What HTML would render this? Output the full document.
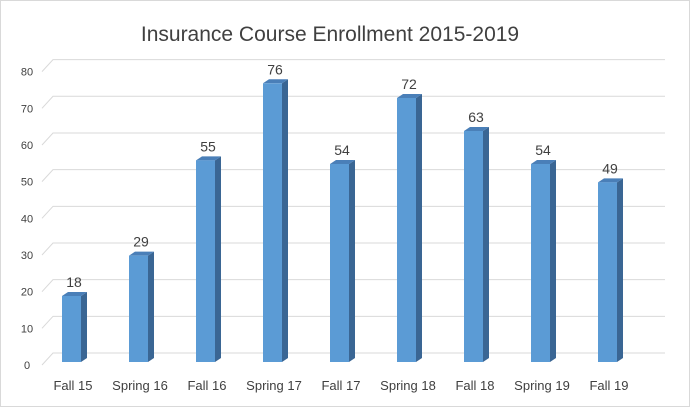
<!DOCTYPE html>
<html><head><style>body{margin:0;background:#fff}</style></head><body>
<svg width="690" height="407" xmlns="http://www.w3.org/2000/svg" font-family="Liberation Sans, sans-serif">
<rect x="0.5" y="0.5" width="689" height="406" fill="#fff" stroke="#d9d9d9"/>
<text x="330" y="41" text-anchor="middle" font-size="21" fill="#404040">Insurance Course Enrollment 2015-2019</text>
<g stroke="#d9d9d9" stroke-width="1" fill="none" id="grid"></g>
<g id="bars"></g>
<g id="labels" font-size="12" fill="#404040"></g>
<script>
var ns="http://www.w3.org/2000/svg";
function el(p,t,a,txt){var e=document.createElementNS(ns,t);for(var k in a)e.setAttribute(k,a[k]);if(txt!=null)e.textContent=txt;document.getElementById(p).appendChild(e);}
for(var i=0;i<=8;i++){var y=365-i*36.67;var by=y-12;
el('grid','polyline',{points:"42,"+y+" 53,"+by+" 665,"+by});
el('labels','text',{x:27,y:y+4,'text-anchor':'middle','font-size':'11'},String(i*10));}
var d=[["Fall 15",18],["Spring 16",29],["Fall 16",55],["Spring 17",76],["Fall 17",54],["Spring 18",72],["Fall 18",63],["Spring 19",54],["Fall 19",49]];
d.forEach(function(c,i){var x=62+67*i,w=19,b=362,t=b-c[1]*3.667;
el('bars','polygon',{points:(x+w)+","+t+" "+(x+w+6)+","+(t-4)+" "+(x+w+6)+","+(b-4)+" "+(x+w)+","+b,fill:"#3a6694"});
el('bars','polygon',{points:x+","+t+" "+(x+6)+","+(t-4)+" "+(x+w+6)+","+(t-4)+" "+(x+w)+","+t,fill:"#4a7fb8"});
el('bars','rect',{x:x,y:t,width:w,height:b-t,fill:"#5b9bd5"});
el('labels','text',{x:x+12,y:t-9,'text-anchor':'middle','font-size':'14'},String(c[1]));
el('labels','text',{x:x+11,y:390,'text-anchor':'middle','font-size':'13'},c[0]);});
</script>
</svg>
</body></html>
